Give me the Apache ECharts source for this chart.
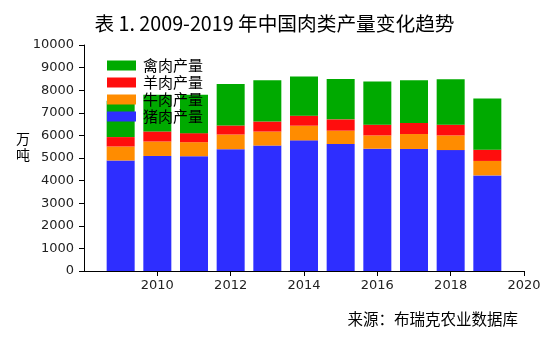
<!DOCTYPE html>
<html>
<head>
<meta charset="utf-8">
<script src="https://cdn.jsdelivr.net/npm/echarts@6/dist/echarts.min.js"></script>
<style>html,body{margin:0;padding:0;background:#fff}#c{width:549px;height:340px}</style>
</head>
<body>
<div id="c"></div>
<script>
var years   = [2009, 2010, 2011, 2012, 2013, 2014, 2015, 2016, 2017, 2018, 2019];
var pork    = [4890, 5090, 5080, 5390, 5550, 5780, 5620, 5410, 5400, 5350, 4230];
var beef    = [620, 640, 620, 650, 620, 650, 590, 590, 660, 650, 640];
var mutton  = [415, 445, 400, 400, 445, 445, 500, 475, 490, 475, 500];
var poultry = [1610, 1625, 1700, 1835, 1820, 1730, 1790, 1905, 1890, 2005, 2260];
var axisYears = ['2008', '2009', '2010', '2011', '2012', '2013', '2014', '2015', '2016', '2017', '2018', '2019', '2020'];
var xTickLabels = ['2010', '2012', '2014', '2016', '2018', '2020'];
var seriesNames = ['猪肉产量', '牛肉产量', '羊肉产量', '禽肉产量'];
var legendOrder = ['禽肉产量', '羊肉产量', '牛肉产量', '猪肉产量'];
var colors = ['#2e2eff', '#ff8c00', '#ff0d0d', '#00aa00'];
var titleText = '表 1. 2009-2019 年中国肉类产量变化趋势';
var sourceText = '来源：布瑞克农业数据库';
var yName = '万\n吨';

var values = [pork, beef, mutton, poultry];
function pairs(arr) { return years.map(function (y, i) { return [String(y), arr[i]]; }); }

var chart = echarts.init(document.getElementById('c'), null, {renderer: 'canvas'});
var font = '"DejaVu Sans", sans-serif';
var cjk = '"Noto Sans CJK SC", sans-serif';
chart.setOption({
  animation: false,
  backgroundColor: '#fff',
  title: {
    text: titleText, left: 'center', top: 14, padding: 0,
    textStyle: {fontFamily: cjk, fontSize: 19.7, fontWeight: 'normal', color: '#000'}
  },
  legend: {
    orient: 'vertical', left: 107, top: 57, padding: 0, itemGap: 0,
    itemWidth: 29, itemHeight: 10, data: legendOrder,
    icon: 'rect',
    textStyle: {fontFamily: cjk, fontSize: 15, color: '#000', lineHeight: 17, padding: [0, 0, 0, 2]}
  },
  grid: {left: 84, right: 25, top: 45, bottom: 69, containLabel: false},
  xAxis: {
    type: 'category', data: axisYears, boundaryGap: false,
    splitLine: {show: false},
    axisLine: {show: true, onZero: false, lineStyle: {color: '#000', width: 1}},
    axisTick: {show: true, length: 5, lineStyle: {color: '#000'},
      interval: function (i, v) { return xTickLabels.indexOf(v) >= 0; }},
    axisLabel: {margin: 8, fontFamily: font, fontSize: 13, color: '#222',
      interval: function (i, v) { return xTickLabels.indexOf(v) >= 0; }}
  },
  yAxis: {
    type: 'value', min: 0, max: 10000, interval: 1000,
    splitLine: {show: false},
    axisLine: {show: true, lineStyle: {color: '#000', width: 1}},
    axisTick: {show: true, length: 5, lineStyle: {color: '#000'}},
    axisLabel: {margin: 10, fontFamily: font, fontSize: 13, color: '#222',
      formatter: function (v) { return String(v); }}
  },
  graphic: [
    {type: 'text', left: 16, top: 131, style: {text: yName, fontFamily: cjk, fontSize: 14, fill: '#000', lineHeight: 16}},
    {type: 'text', right: 31, top: 311, style: {text: sourceText, fontFamily: cjk, fontSize: 15.5, fill: '#000'}}
  ],
  series: values.map(function (arr, i) {
    return {
      name: seriesNames[i], type: 'bar', stack: 'total', barWidth: 28,
      itemStyle: {color: colors[i]},
      data: pairs(arr)
    };
  })
});
</script>
</body>
</html>
